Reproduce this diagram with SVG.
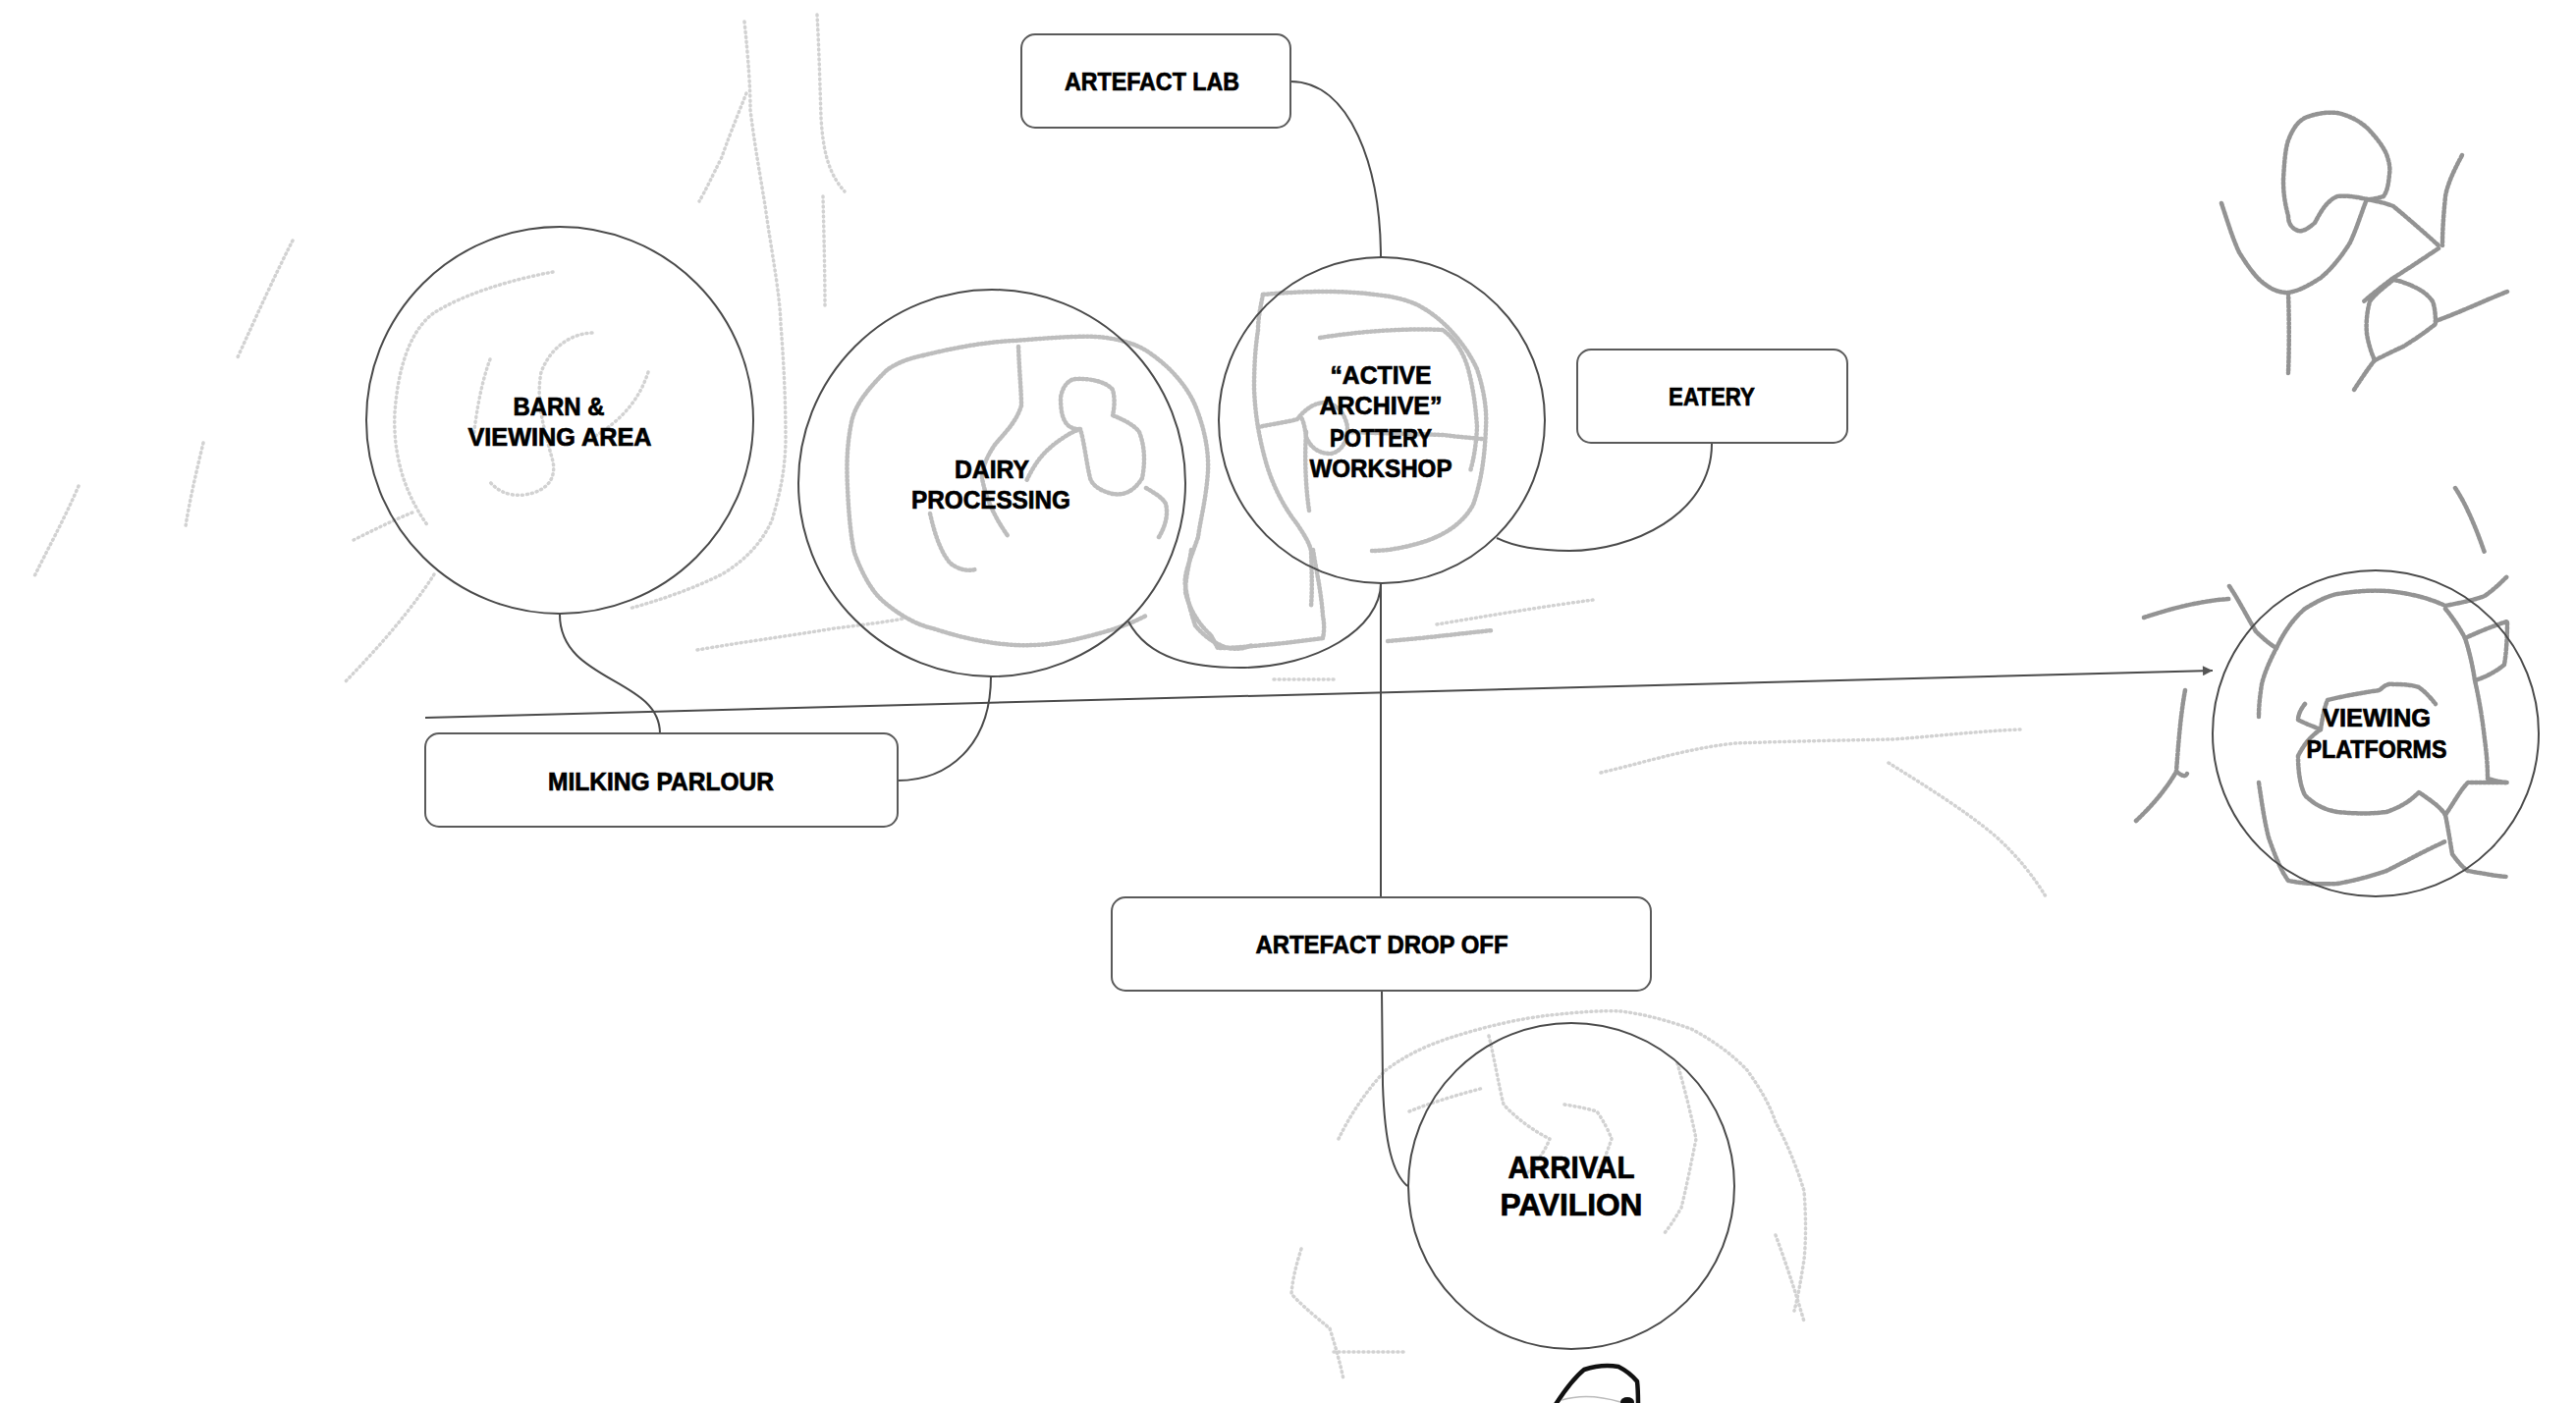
<svg xmlns="http://www.w3.org/2000/svg" width="2623" height="1429" viewBox="0 0 2623 1429">
<style>
  .bg{fill:#ffffff}
  .sk{fill:none;stroke:#bdbdbd;stroke-width:4.5;stroke-linecap:round;stroke-linejoin:round;stroke-dasharray:1.5 2.5}
  .sk2{fill:none;stroke:#939393;stroke-width:4.5;stroke-linecap:round;stroke-linejoin:round;stroke-dasharray:2.5 1.8}
  .sk3{fill:none;stroke:#d2d2d2;stroke-width:3.5;stroke-linecap:round;stroke-linejoin:round;stroke-dasharray:1 4}
  .circ{fill:none;stroke:#4a4a4a;stroke-width:2}
  .box{fill:#ffffff;stroke:#5a5a5a;stroke-width:2}
  .con{fill:none;stroke:#4a4a4a;stroke-width:2}
  .lbl{font-family:"Liberation Sans",Arial,sans-serif;font-weight:bold;font-size:26px;fill:#000;stroke:#000;stroke-width:0.7;text-anchor:middle}
  .big{font-size:32px}
</style>
<defs>
  <marker id="arr" viewBox="0 0 10 10" refX="10" refY="5" markerWidth="14" markerHeight="10" markerUnits="userSpaceOnUse" orient="auto">
    <path d="M0,0 L10,5 L0,10 z" fill="#555"/>
  </marker>
</defs>
<rect class="bg" x="0" y="0" width="2623" height="1429"/>

<g id="sketches">
  <!-- top-left faint lines -->
  <path class="sk3" d="M758,22 C762,60 764,90 764,112 C770,160 778,200 781,223 C788,270 794,300 795,330 C799,380 800,420 800,450 C799,480 795,500 786,530 C776,552 760,570 735,585 C705,600 670,612 640,620"/>
  <path class="sk3" d="M832,15 C834,50 835,90 836,120 C838,150 842,175 860,195"/>
  <path class="sk3" d="M838,200 C839,240 840,280 840,312"/>
  <path class="sk3" d="M760,95 C750,120 740,145 735,160 C725,180 718,195 712,205"/>
  <path class="sk3" d="M298,245 C280,280 262,320 241,366"/>
  <path class="sk3" d="M207,451 C200,480 193,510 189,536"/>
  <path class="sk3" d="M80,495 C65,530 48,560 34,589"/>
  <path class="sk3" d="M442,585 C420,620 385,660 350,696"/>
  <path class="sk3" d="M710,662 C750,655 800,648 850,640 C880,636 900,634 920,630"/>
  <path class="sk3" d="M360,550 C380,540 400,530 420,522"/>
  <!-- barn interior -->
  <path class="sk3" d="M563,277 C520,285 470,300 440,320 C415,340 405,380 402,420 C400,460 410,500 436,536"/>
  <path class="sk3" d="M603,339 C580,340 560,355 551,379 C545,410 555,440 563,470 C566,485 560,500 534,504 C515,506 505,498 498,490"/>
  <path class="sk3" d="M660,379 C650,410 630,430 603,446"/>
  <path class="sk3" d="M499,366 C490,390 485,420 482,446"/>
  <!-- dairy interior -->
  <path class="sk" d="M940,362 C980,352 1010,348 1033,347 C1060,345 1090,342 1117,343 C1140,345 1155,350 1167,357 C1190,372 1208,392 1217,413 C1226,435 1231,458 1230,480 C1228,510 1222,530 1220,547 C1212,570 1205,585 1207,597 C1210,615 1214,628 1217,637 C1224,646 1235,655 1250,660 C1260,662 1268,660 1275,657"/>
  <path class="sk" d="M940,362 C920,366 905,374 900,380 C880,400 870,415 867,430 C862,455 862,475 863,497 C864,520 866,545 870,563 C878,585 888,603 900,613 C918,628 935,637 950,640 C980,650 1005,655 1033,657 C1060,658 1080,655 1100,650 C1130,643 1150,636 1167,627"/>
  <path class="sk" d="M1037,353 C1038,380 1040,400 1040,413 C1035,430 1022,442 1013,453 C1003,468 1000,478 1000,487 C1004,510 1015,530 1027,547"/>
  <path class="sk" d="M947,523 C952,545 958,562 967,573 C975,580 985,582 993,580"/>
  <path class="sk" d="M1100,437 C1082,438 1080,420 1080,405 C1082,393 1088,387 1095,386 C1112,385 1128,390 1133,397 C1136,408 1134,418 1133,423 C1145,428 1155,433 1160,440 C1166,455 1166,472 1163,487 C1155,500 1145,505 1133,503 C1120,500 1112,494 1110,487 C1106,470 1104,450 1100,437 C1090,440 1075,450 1065,460 C1055,470 1050,480 1045,490"/>
  <path class="sk" d="M1167,497 C1175,502 1183,506 1187,513 C1190,525 1186,537 1180,547"/>
  <!-- pottery interior -->
  <path class="sk" d="M1286,300 C1330,296 1370,296 1400,300 C1420,302 1435,306 1446,312 C1470,325 1492,350 1504,376 C1512,400 1514,420 1513,435 C1512,465 1508,492 1500,514 C1490,533 1470,546 1446,553 C1425,559 1410,561 1397,561"/>
  <path class="sk" d="M1286,300 C1283,315 1281,325 1281,336 C1278,355 1277,375 1277,395 C1278,425 1283,450 1290,474 C1298,500 1310,520 1321,534 C1328,545 1333,552 1335,561 C1336,590 1336,605 1335,617"/>
  <path class="sk" d="M1213,560 C1210,580 1207,590 1207,603 C1212,625 1225,640 1233,647 C1236,652 1238,657 1240,660 C1260,660 1275,658 1287,657 C1310,655 1330,652 1347,650 C1349,640 1348,633 1347,627 C1345,600 1340,580 1337,560"/>
  <path class="sk" d="M1344,344 C1380,338 1430,334 1469,336 C1482,345 1492,362 1496,380 C1501,400 1503,420 1504,435 C1503,455 1500,470 1497,480"/>
  <path class="sk" d="M1281,435 C1295,432 1310,430 1321,427 C1330,415 1340,410 1350,410 C1362,412 1370,422 1372,435 C1372,450 1366,460 1355,462 C1342,462 1334,455 1330,445 C1328,430 1325,420 1321,427"/>
  <path class="sk" d="M1330,440 C1328,470 1330,500 1333,520"/>
  <path class="sk" d="M1372,440 C1400,441 1440,442 1469,443 C1485,445 1498,446 1509,447"/>
  <path class="sk" d="M1413,653 C1450,650 1490,645 1520,642"/>
  <path class="sk3" d="M1297,692 C1320,692 1340,692 1360,692"/>
  <path class="sk3" d="M1463,636 C1510,628 1570,618 1622,611"/>
  <!-- right-middle faint lines -->
  <path class="sk3" d="M1630,787 C1680,775 1720,762 1767,757 C1820,755 1880,754 1927,753 C1970,750 2010,745 2057,743"/>
  <path class="sk3" d="M1923,777 C1960,800 2000,825 2030,850 C2055,872 2072,895 2083,913"/>
  <!-- top-right sketch -->
  <path class="sk2" d="M2410,203 C2398,200 2388,199 2380,200 C2368,205 2362,218 2357,227 C2350,233 2345,236 2340,235 C2332,232 2330,226 2330,220 C2326,205 2325,195 2325,183 C2326,165 2327,152 2330,143 C2335,130 2340,124 2347,120 C2360,115 2370,114 2380,115 C2393,118 2402,123 2410,130 C2420,140 2427,150 2430,157 C2433,165 2434,172 2433,177 C2432,190 2430,196 2427,200 C2421,202 2415,203 2410,203"/>
  <path class="sk2" d="M2262,207 C2268,225 2273,242 2280,257 C2290,273 2298,284 2307,290 C2315,296 2322,298 2330,298 C2342,296 2352,290 2363,283 C2375,273 2385,260 2393,247 C2400,232 2405,215 2410,203"/>
  <path class="sk2" d="M2330,298 C2331,325 2331,355 2330,380"/>
  <path class="sk2" d="M2410,203 C2420,205 2430,207 2437,210 C2455,225 2472,240 2483,250"/>
  <path class="sk2" d="M2507,158 C2498,175 2492,188 2490,200 C2488,220 2487,235 2487,250"/>
  <path class="sk2" d="M2483,253 C2465,265 2450,275 2437,283 C2425,292 2415,300 2407,307"/>
  <path class="sk2" d="M2437,285 C2428,292 2418,300 2413,307 C2410,318 2409,330 2410,340 C2412,352 2415,360 2418,367 C2428,362 2438,357 2447,353 C2460,345 2470,338 2480,330 C2480,320 2479,312 2477,307 C2472,300 2466,296 2460,293 C2452,289 2444,286 2437,285"/>
  <path class="sk2" d="M2418,367 C2410,377 2403,388 2397,397"/>
  <path class="sk2" d="M2480,327 C2505,318 2530,306 2553,297"/>
  <!-- viewing platforms sketch -->
  <path class="sk2" d="M2183,629 C2210,620 2240,612 2270,610"/>
  <path class="sk2" d="M2270,597 C2280,612 2288,628 2297,643 C2304,650 2311,656 2318,660"/>
  <path class="sk2" d="M2318,660 C2325,645 2335,630 2347,620 C2360,612 2370,607 2380,605 C2400,602 2415,601 2430,602 C2455,604 2475,610 2490,617 C2505,614 2520,611 2530,607 C2540,600 2547,593 2553,587"/>
  <path class="sk2" d="M2318,660 C2310,675 2305,688 2303,697 C2301,710 2300,720 2300,730"/>
  <path class="sk2" d="M2490,620 C2498,630 2505,640 2510,650 C2515,665 2518,680 2520,693 C2525,715 2528,735 2530,753 C2532,768 2533,780 2533,793 C2540,795 2547,797 2553,797"/>
  <path class="sk2" d="M2510,650 C2525,643 2540,637 2553,633 C2553,650 2552,665 2550,677 C2540,685 2530,690 2520,693"/>
  <path class="sk2" d="M2347,717 C2343,722 2340,728 2340,733 C2347,737 2356,740 2363,743 C2352,750 2345,760 2340,770 C2340,785 2342,800 2347,810 C2357,820 2368,825 2380,827 C2400,829 2415,829 2430,827 C2445,822 2455,815 2463,807 C2475,815 2485,822 2490,830 C2493,845 2495,858 2497,870 C2503,878 2508,884 2513,887 C2530,890 2540,892 2553,893"/>
  <path class="sk2" d="M2363,743 C2365,730 2367,720 2370,713 C2390,708 2410,705 2423,703 C2428,698 2432,696 2437,697 C2450,697 2457,698 2463,700 C2470,705 2476,712 2480,717"/>
  <path class="sk2" d="M2490,830 C2497,820 2505,805 2513,797 C2528,797 2540,797 2553,797"/>
  <path class="sk2" d="M2300,797 C2303,817 2306,838 2310,853 C2316,870 2322,886 2330,897 C2345,900 2362,901 2380,900 C2398,897 2415,892 2430,887 C2450,877 2470,866 2490,857"/>
  <path class="sk2" d="M2500,497 C2512,515 2522,540 2530,563"/>
  <path class="sk2" d="M2225,703 C2220,730 2218,760 2216,786 C2205,805 2190,822 2175,836"/>
  <path class="sk2" d="M2216,786 C2222,790 2225,792 2227,788"/>
  <!-- arrival sketch -->
  <path class="sk3" d="M1363,1160 C1375,1135 1392,1110 1411,1090 C1435,1072 1460,1062 1483,1055 C1515,1045 1550,1037 1578,1034 C1605,1031 1630,1029 1650,1030 C1675,1033 1700,1040 1722,1048 C1745,1060 1765,1075 1779,1090 C1792,1108 1802,1125 1808,1143 C1820,1165 1830,1190 1837,1213 C1839,1240 1839,1262 1837,1283 C1834,1302 1831,1320 1827,1335"/>
  <path class="sk3" d="M1435,1132 C1460,1122 1488,1114 1511,1108"/>
  <path class="sk3" d="M1516,1055 C1522,1080 1526,1105 1531,1125 C1545,1140 1562,1152 1578,1160 C1572,1175 1563,1186 1555,1195"/>
  <path class="sk3" d="M1593,1125 C1605,1127 1616,1129 1626,1132 C1633,1142 1638,1152 1641,1160 C1636,1175 1631,1187 1626,1195"/>
  <path class="sk3" d="M1708,1083 C1715,1108 1722,1135 1727,1160 C1722,1185 1717,1210 1712,1230 C1705,1242 1700,1250 1693,1258"/>
  <path class="sk3" d="M1325,1272 C1320,1288 1316,1303 1315,1318 C1328,1332 1342,1343 1354,1353 C1360,1372 1365,1390 1368,1405"/>
  <path class="sk3" d="M1358,1377 C1380,1377 1405,1377 1430,1377"/>
  <path class="sk3" d="M1808,1258 C1818,1285 1828,1315 1837,1346"/>
</g>

<g id="connectors">
  <path class="con" d="M433,731 L2253,683" marker-end="url(#arr)"/>
  <path class="con" d="M1314,83 C1375,83 1406,170 1406,263"/>
  <path class="con" d="M1743,452 C1743,525 1660,561 1598,561 C1568,561 1542,557 1524,548"/>
  <path class="con" d="M570,626 C570,695 672,690 672,747"/>
  <path class="con" d="M1009,689 C1009,760 965,795 914,795"/>
  <path class="con" d="M1149,633 C1170,672 1215,680 1263,680 C1340,680 1406,640 1406,594"/>
  <path class="con" d="M1406,594 L1406,913"/>
  <path class="con" d="M1407,1009 L1408,1105 C1410,1165 1418,1195 1433,1208"/>
</g>

<g id="node-barn">
  <circle class="circ" cx="570" cy="428" r="197"/>
  <text class="lbl" x="569" y="423" textLength="93" lengthAdjust="spacingAndGlyphs">BARN &amp;</text>
  <text class="lbl" x="570" y="454" textLength="187" lengthAdjust="spacingAndGlyphs">VIEWING AREA</text>
</g>
<g id="node-dairy">
  <circle class="circ" cx="1010" cy="492" r="197"/>
  <text class="lbl" x="1010" y="487" textLength="76" lengthAdjust="spacingAndGlyphs">DAIRY</text>
  <text class="lbl" x="1009" y="518" textLength="162" lengthAdjust="spacingAndGlyphs">PROCESSING</text>
</g>
<g id="node-pottery">
  <circle class="circ" cx="1407" cy="428" r="166"/>
  <text class="lbl" x="1406" y="391" textLength="103" lengthAdjust="spacingAndGlyphs">“ACTIVE</text>
  <text class="lbl" x="1406" y="422" textLength="125" lengthAdjust="spacingAndGlyphs">ARCHIVE”</text>
  <text class="lbl" x="1406" y="455" textLength="104" lengthAdjust="spacingAndGlyphs">POTTERY</text>
  <text class="lbl" x="1406" y="486" textLength="145" lengthAdjust="spacingAndGlyphs">WORKSHOP</text>
</g>
<g id="node-artefact-lab">
  <rect class="box" x="1040" y="35" width="274" height="95" rx="14"/>
  <text class="lbl" x="1173" y="92" textLength="178" lengthAdjust="spacingAndGlyphs">ARTEFACT LAB</text>
</g>
<g id="node-eatery">
  <rect class="box" x="1606" y="356" width="275" height="95" rx="14"/>
  <text class="lbl" x="1743" y="413" textLength="88" lengthAdjust="spacingAndGlyphs">EATERY</text>
</g>
<g id="node-milking">
  <rect class="box" x="433" y="747" width="481" height="95" rx="14"/>
  <text class="lbl" x="673" y="805" textLength="230" lengthAdjust="spacingAndGlyphs">MILKING PARLOUR</text>
</g>
<g id="node-dropoff">
  <rect class="box" x="1132" y="914" width="549" height="95" rx="14"/>
  <text class="lbl" x="1407" y="971" textLength="257" lengthAdjust="spacingAndGlyphs">ARTEFACT DROP OFF</text>
</g>
<g id="node-arrival">
  <circle class="circ" cx="1600" cy="1208" r="166"/>
  <text class="lbl big" x="1600" y="1200" textLength="129" lengthAdjust="spacingAndGlyphs">ARRIVAL</text>
  <text class="lbl big" x="1600" y="1238" textLength="145" lengthAdjust="spacingAndGlyphs">PAVILION</text>
</g>
<g id="node-viewing">
  <circle class="circ" cx="2419" cy="747" r="166"/>
  <text class="lbl" x="2420" y="740" textLength="110" lengthAdjust="spacingAndGlyphs">VIEWING</text>
  <text class="lbl" x="2420" y="772" textLength="143" lengthAdjust="spacingAndGlyphs">PLATFORMS</text>
</g>

<g id="figure">
  <path d="M1583,1432 C1592,1418 1602,1404 1613,1395 C1625,1391 1637,1390 1648,1392 C1656,1396 1662,1401 1667,1407 C1668,1415 1668,1422 1668,1432" fill="none" stroke="#111" stroke-width="4.5" stroke-linejoin="round"/>
  <path d="M1590,1426 C1610,1420 1630,1422 1650,1428" fill="none" stroke="#bbb" stroke-width="1.5"/>
  <ellipse cx="1657" cy="1428" rx="7" ry="5" fill="#111"/>
</g>
</svg>
